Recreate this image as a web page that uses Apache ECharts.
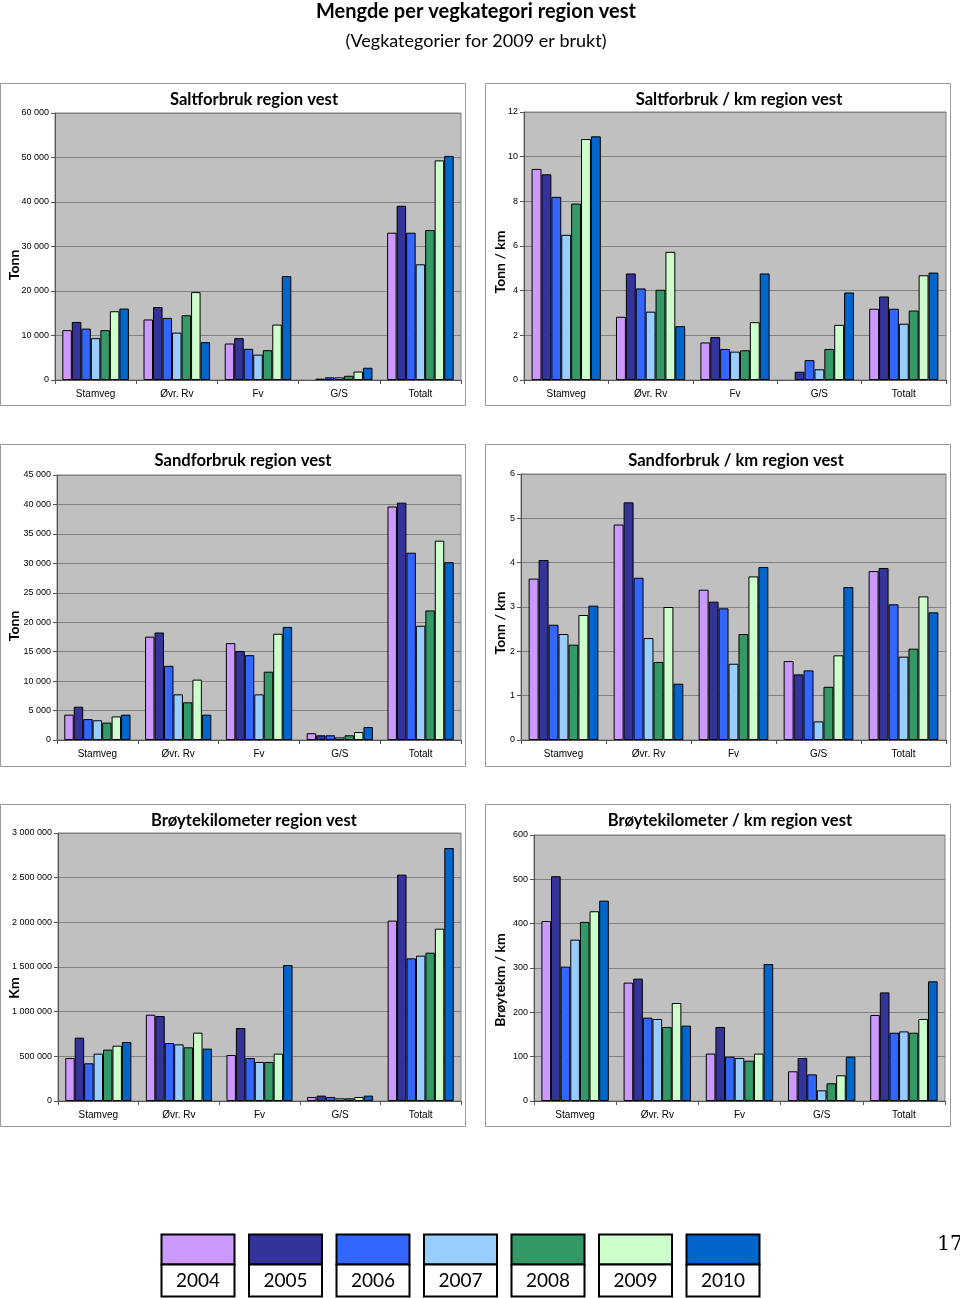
<!DOCTYPE html>
<html><head><meta charset="utf-8">
<script src="https://cdn.jsdelivr.net/npm/echarts@6/dist/echarts.min.js"></script>
<style>html,body{margin:0;padding:0;background:#fff}#c{width:960px;height:1298px}</style>
</head><body><div id="c"></div>
<script>
const categories = ['Stamveg', 'Øvr. Rv', 'Fv', 'G/S', 'Totalt'];
const years = ['2004', '2005', '2006', '2007', '2008', '2009', '2010'];
const yearColors = ['#cc99ff', '#333399', '#3366ff', '#99ccff', '#339966', '#ccffcc', '#0066cc'];

// rows = years, columns = categories
const saltTonn = [
  [11200, 13600, 8200, null, 33100],
  [13050, 16400, 9400, 300, 39150],
  [11550, 13950, 7000, 600, 33100],
  [9400, 10650, 5700, 600, 26000],
  [11200, 14550, 6700, 950, 33700],
  [15450, 19750, 12450, 1900, 49350],
  [16050, 8500, 23350, 2750, 50350]
];
const saltPerKm = [
  [9.45, 2.83, 1.68, null, 3.19],
  [9.21, 4.77, 1.92, 0.37, 3.74],
  [8.2, 4.1, 1.39, 0.89, 3.19],
  [6.5, 3.06, 1.27, 0.48, 2.52],
  [7.9, 4.04, 1.33, 1.39, 3.11],
  [10.79, 5.74, 2.59, 2.47, 4.69],
  [10.91, 2.41, 4.77, 3.92, 4.81]
];
const sandTonn = [
  [4300, 17550, 16450, 1150, 39650],
  [5650, 18250, 15100, 800, 40300],
  [3550, 12600, 14400, 800, 31800],
  [3350, 7750, 7750, 450, 19400],
  [2950, 6400, 11600, 800, 22000],
  [4000, 10250, 18050, 1350, 33850],
  [4300, 4300, 19200, 2200, 30200]
];
const sandPerKm = [
  [3.64, 4.86, 3.39, 1.78, 3.81],
  [4.06, 5.36, 3.12, 1.48, 3.88],
  [2.6, 3.66, 2.97, 1.57, 3.06],
  [2.39, 2.3, 1.72, 0.42, 1.88],
  [2.15, 1.76, 2.39, 1.2, 2.06],
  [2.82, 3.0, 3.69, 1.91, 3.24],
  [3.03, 1.27, 3.9, 3.45, 2.88]
];
const broytekm = [
  [481000, 966000, 515000, 45000, 2019000],
  [709000, 951000, 817000, 60000, 2534000],
  [422000, 649000, 481000, 45000, 1597000],
  [530000, 634000, 437000, 30000, 1627000],
  [575000, 601000, 437000, 30000, 1660000],
  [619000, 765000, 530000, 45000, 1929000],
  [660000, 586000, 1522000, 60000, 2832000]
];
const broytekmPerKm = [
  [406, 267, 107, 67, 194],
  [507, 276, 167, 97, 245],
  [303, 188, 100, 60, 154],
  [364, 185, 97, 24, 157],
  [404, 167, 91, 40, 154],
  [428, 221, 107, 58, 185],
  [452, 170, 309, 100, 270]
];

const chartTitles = ['Saltforbruk region vest', 'Saltforbruk / km region vest', 'Sandforbruk region vest',
  'Sandforbruk / km region vest', 'Brøytekilometer region vest', 'Brøytekilometer / km region vest'];
const yNames = ['Tonn', 'Tonn / km', 'Tonn', 'Tonn / km', 'Km', 'Brøytekm / km'];
const yMax = [60000, 12, 45000, 6, 3000000, 600];
const yStep = [10000, 2, 5000, 1, 500000, 100];
const datasets = [saltTonn, saltPerKm, sandTonn, sandPerKm, broytekm, broytekmPerKm];

// layout
const panels = [
  {x: 0, y: 83}, {x: 485, y: 83}, {x: 0, y: 444}, {x: 485, y: 444}, {x: 0, y: 804}, {x: 485, y: 804}
];
const grids = [
  {left: 55, top: 113, width: 406, height: 267},
  {left: 524, top: 112, width: 422, height: 268},
  {left: 57, top: 475, width: 404, height: 265},
  {left: 521, top: 474, width: 425, height: 266},
  {left: 58, top: 833, width: 403, height: 268},
  {left: 534, top: 835, width: 411, height: 266}
];
const titlePos = [[254, 100], [739, 100], [243, 461], [736, 461], [254, 821], [730, 821]];
const yNamePos = [[14, 265], [500, 262], [14, 626], [500, 623], [14, 988], [500, 980]];

function fmtNum(v) {
  return String(v).replace(/\B(?=(\d{3})+(?!\d))/g, ' ');
}

const option = {
  animation: false,
  backgroundColor: '#fff',
  grid: [], xAxis: [], yAxis: [], series: [], graphic: []
};

panels.forEach((p, i) => {
  option.graphic.push({type: 'rect', shape: {x: p.x + 0.5, y: p.y + 0.5, width: 465, height: 322},
    style: {fill: '#fff', stroke: '#9a9a9a', lineWidth: 1}, z: -10});
  option.graphic.push({type: 'text', x: titlePos[i][0], y: titlePos[i][1], z: 10,
    style: {text: chartTitles[i], textAlign: 'center', textVerticalAlign: 'middle',
      font: 'bold 16.6px Lato, "Open Sans", sans-serif', fill: '#000'}});
  option.graphic.push({type: 'text', x: yNamePos[i][0], y: yNamePos[i][1], rotation: Math.PI / 2, z: 10,
    style: {text: yNames[i], textAlign: 'center', textVerticalAlign: 'middle',
      font: 'bold 14px Lato, "Open Sans", sans-serif', fill: '#000'}});
});

grids.forEach((g, i) => {
  option.grid.push(Object.assign({show: true, backgroundColor: '#c0c0c0', borderColor: '#808080', borderWidth: 1,
    containLabel: false, outerBoundsMode: 'none'}, g));
  option.xAxis.push({
    type: 'category', gridIndex: i, data: categories,
    axisLine: {lineStyle: {color: '#555', width: 1}},
    axisTick: {show: true, alignWithLabel: false, length: 4, lineStyle: {color: '#555'}},
    axisLabel: {color: '#000', fontSize: 10, fontFamily: '"Liberation Sans", Arial, sans-serif', margin: 9}
  });
  option.yAxis.push({
    type: 'value', gridIndex: i, min: 0, max: yMax[i], interval: yStep[i],
    axisLine: {show: true, lineStyle: {color: '#555'}},
    axisTick: {show: true, length: 4, lineStyle: {color: '#555'}},
    splitLine: {lineStyle: {color: '#808080', width: 1}},
    axisLabel: {color: '#000', fontSize: 9, fontFamily: '"Liberation Sans", Arial, sans-serif', margin: 6,
      formatter: v => fmtNum(v)}
  });
  years.forEach((yr, k) => {
    option.series.push({
      type: 'bar', name: yr, xAxisIndex: i, yAxisIndex: i,
      data: datasets[i][k],
      barGap: '0%', barCategoryGap: '18%',
      itemStyle: {color: yearColors[k], borderColor: '#000', borderWidth: 1},
      emphasis: {disabled: true}
    });
  });
});

// Legend boxes
years.forEach((yr, k) => {
  const x = 161 + k * 87.5;
  option.graphic.push({type: 'rect', shape: {x: x + 0.5, y: 1234.5, width: 73, height: 30},
    style: {fill: yearColors[k], stroke: '#000', lineWidth: 2}});
  option.graphic.push({type: 'rect', shape: {x: x + 0.5, y: 1264.5, width: 73, height: 32},
    style: {fill: '#fff', stroke: '#000', lineWidth: 2}});
  option.graphic.push({type: 'text', x: x + 37, y: 1281,
    style: {text: yr, textAlign: 'center', textVerticalAlign: 'middle',
      font: '19px Lato, "Open Sans", sans-serif', fill: '#000'}});
});

// main titles & page number
option.graphic.push({type: 'text', x: 476, y: 12, style: {text: 'Mengde per vegkategori region vest',
  textAlign: 'center', textVerticalAlign: 'middle', font: 'bold 20px Lato, "Open Sans", sans-serif', fill: '#000'}});
option.graphic.push({type: 'text', x: 476, y: 41, style: {text: '(Vegkategorier for 2009 er brukt)',
  textAlign: 'center', textVerticalAlign: 'middle', font: '18px Lato, "Open Sans", sans-serif', fill: '#000'}});
option.graphic.push({type: 'text', x: 950, y: 1245, style: {text: '17',
  textAlign: 'center', textVerticalAlign: 'middle', font: '20px "DejaVu Serif", "Liberation Serif", serif', fill: '#000'}});

const chart = echarts.init(document.getElementById('c'), null, {renderer: 'canvas'});
chart.setOption(option);
</script>
</body></html>
